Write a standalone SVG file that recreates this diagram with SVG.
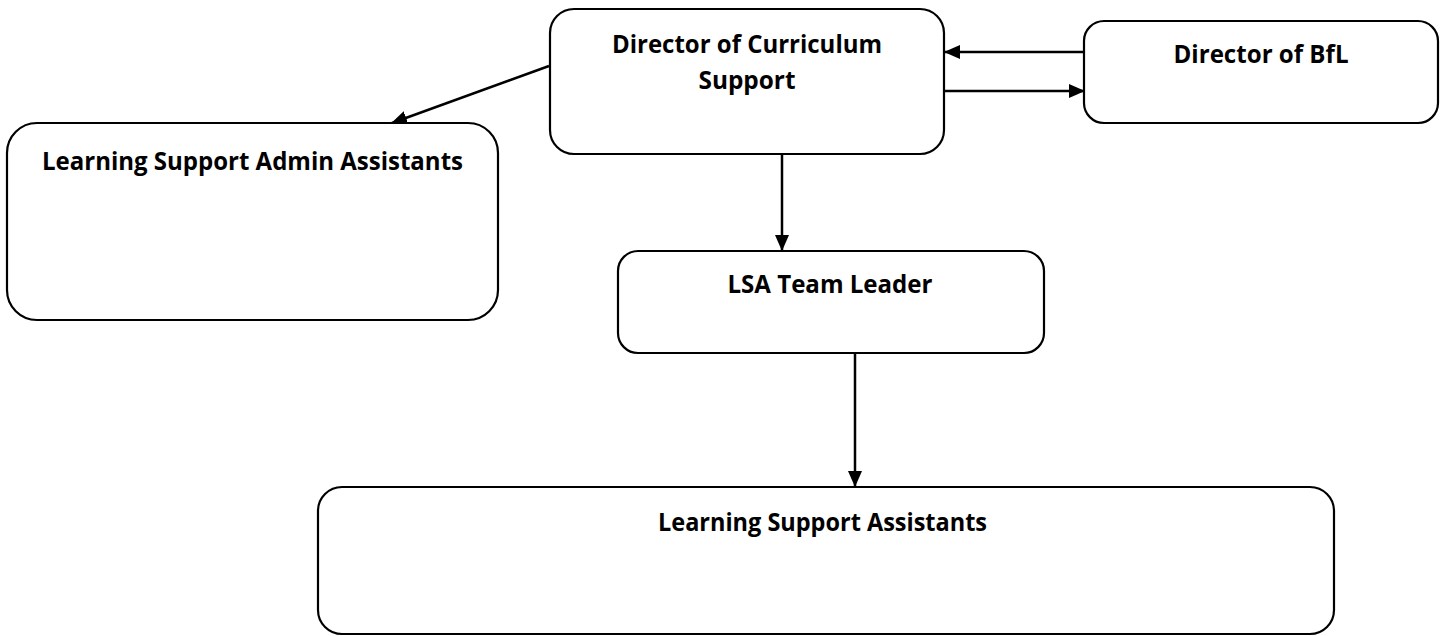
<svg xmlns="http://www.w3.org/2000/svg" width="1448" height="636" viewBox="0 0 1448 636">
<style>
.box{fill:#fff;stroke:#000;stroke-width:2.2}
.lbl{font-family:"Open Sans","Liberation Sans",sans-serif;font-weight:bold;font-size:25px;fill:#000;text-anchor:middle}
.conn{stroke:#000;stroke-width:2.5;fill:none;marker-end:url(#arr)}
</style>
<defs>
<marker id="arr" markerUnits="userSpaceOnUse" markerWidth="16" markerHeight="16" refX="15" refY="8" orient="auto">
<path d="M0,1 L16,8 L0,15 z" fill="#000"/>
</marker>
</defs>
<rect width="1448" height="636" fill="#fff"/>
<g id="connectors">
<line class="conn" x1="549" y1="66" x2="392" y2="123"/>
<line class="conn" x1="1084" y1="52" x2="945" y2="52"/>
<line class="conn" x1="944" y1="91" x2="1084" y2="91"/>
<line class="conn" x1="782" y1="154" x2="782" y2="250"/>
<line class="conn" x1="855" y1="353" x2="855" y2="486"/>
</g>
<g id="dcs">
<rect class="box" x="550" y="9" width="394" height="145" rx="24"/>
<text class="lbl" x="747" y="53" textLength="270" lengthAdjust="spacingAndGlyphs">Director of Curriculum</text>
<text class="lbl" x="747" y="89" textLength="97" lengthAdjust="spacingAndGlyphs">Support</text>
</g>
<g id="bfl">
<rect class="box" x="1084" y="21" width="354" height="102" rx="20"/>
<text class="lbl" x="1261" y="63" textLength="175" lengthAdjust="spacingAndGlyphs">Director of BfL</text>
</g>
<g id="lsaa">
<rect class="box" x="7" y="123" width="491" height="197" rx="30"/>
<text class="lbl" x="252.5" y="170" textLength="421" lengthAdjust="spacingAndGlyphs">Learning Support Admin Assistants</text>
</g>
<g id="lsatl">
<rect class="box" x="618" y="251" width="426" height="102" rx="20"/>
<text class="lbl" x="830" y="293" textLength="205" lengthAdjust="spacingAndGlyphs">LSA Team Leader</text>
</g>
<g id="lsa">
<rect class="box" x="318" y="487" width="1016" height="147" rx="24"/>
<text class="lbl" x="822.5" y="531" textLength="329" lengthAdjust="spacingAndGlyphs">Learning Support Assistants</text>
</g>
</svg>
